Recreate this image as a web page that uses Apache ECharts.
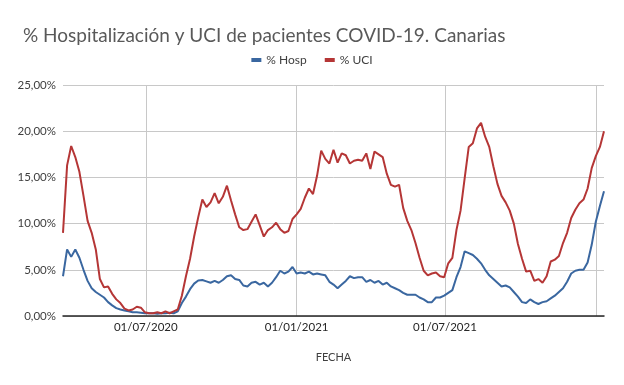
<!DOCTYPE html>
<html>
<head>
<meta charset="utf-8">
<script src="https://cdn.jsdelivr.net/npm/echarts@6/dist/echarts.min.js"></script>
<style>
html,body{margin:0;padding:0;background:#fff;}
#chart{width:624px;height:385px;}
</style>
</head>
<body>
<div id="chart"></div>
<script>
// Daily axis from 22/03/2020 to 11/01/2022; values read every 5 days
const startDate = [2020, 2, 22];
const totalDays = 660;
const step = 5;
const gridDates = ['01/07/2020', '01/01/2021', '01/07/2021', '01/01/2022'];
const labelDates = ['01/07/2020', '01/01/2021', '01/07/2021'];
const seriesNames = ['% Hosp', '% UCI'];
const yTicks = [0, 5, 10, 15, 20, 25];

const hosp = [4.3,7.2,6.4,7.2,6.3,5.0,3.8,3.0,2.6,2.3,2.0,1.5,1.15,0.85,0.7,0.6,0.5,0.4,0.4,0.35,
  0.3,0.3,0.3,0.25,0.3,0.3,0.35,0.3,0.5,1.4,2.1,2.9,3.5,3.85,3.9,3.75,3.6,3.8,3.6,3.9,
  4.3,4.4,4.0,3.9,3.3,3.2,3.6,3.7,3.4,3.6,3.2,3.6,4.2,4.9,4.6,4.8,5.3,4.6,4.7,4.6,
  4.8,4.5,4.6,4.5,4.4,3.7,3.4,3.0,3.4,3.8,4.3,4.1,4.2,4.2,3.7,3.9,3.6,3.8,3.4,3.6,
  3.2,3.0,2.8,2.5,2.3,2.3,2.3,2.0,1.8,1.5,1.5,2.0,2.0,2.2,2.5,2.8,4.2,5.3,7.0,6.8,
  6.6,6.2,5.7,5.0,4.4,4.0,3.6,3.2,3.3,3.1,2.6,2.1,1.5,1.4,1.8,1.5,1.3,1.5,1.6,1.9,
  2.2,2.6,3.0,3.7,4.6,4.9,5.0,5.0,5.8,7.7,10.2,11.9,13.5];
const uci = [9.0,16.3,18.4,17.2,15.6,13.0,10.3,9.0,7.2,4.0,3.1,3.2,2.4,1.8,1.4,0.8,0.6,0.7,1.0,0.9,
  0.4,0.3,0.3,0.4,0.3,0.5,0.3,0.5,0.7,2.2,4.3,6.2,8.6,10.7,12.6,11.8,12.3,13.3,12.2,12.9,
  14.1,12.5,11.0,9.6,9.3,9.4,10.2,11.0,9.8,8.6,9.3,9.6,10.1,9.4,9.0,9.2,10.5,11.0,11.6,12.8,
  13.8,13.2,15.2,17.9,17.0,16.5,18.0,16.6,17.6,17.4,16.5,16.8,16.9,16.8,17.6,15.9,17.8,17.5,17.2,15.4,
  14.2,14.0,14.2,11.7,10.3,9.3,7.9,6.3,4.9,4.4,4.6,4.7,4.3,4.2,5.7,6.3,9.3,11.4,14.9,18.3,
  18.7,20.3,20.9,19.4,18.3,16.2,14.3,13.0,12.3,11.4,10.0,7.8,6.2,4.8,4.9,3.8,4.0,3.6,4.3,5.9,
  6.1,6.5,7.9,9.0,10.6,11.5,12.2,12.6,13.8,16.0,17.3,18.3,20.0];

const pad = n => (n < 10 ? '0' : '') + n;
const categories = [];
for (let d = 0; d <= totalDays; d++) {
  const dt = new Date(Date.UTC(startDate[0], startDate[1], startDate[2] + d));
  categories.push(pad(dt.getUTCDate()) + '/' + pad(dt.getUTCMonth() + 1) + '/' + dt.getUTCFullYear());
}
const toPoints = arr => arr.map((v, i) => [i * step, v]);

const chart = echarts.init(document.getElementById('chart'), null, {renderer: 'canvas'});
const font = 'Lato, "Open Sans", sans-serif';
chart.setOption({
  animation: false,
  backgroundColor: '#fff',
  title: {
    text: '% Hospitalización y UCI de pacientes COVID-19. Canarias',
    left: 18, top: 21,
    textStyle: {fontFamily: font, fontSize: 19, fontWeight: 'normal', color: '#595959'}
  },
  legend: {
    data: seriesNames,
    top: 49, left: 'center',
    icon: 'rect', itemWidth: 10, itemHeight: 4, itemGap: 18,
    textStyle: {fontFamily: font, fontSize: 12, color: '#404040'}
  },
  grid: {left: 63, right: 20, top: 85, bottom: 69, containLabel: false},
  xAxis: {
    type: 'category',
    data: categories,
    boundaryGap: false,
    name: 'FECHA', nameLocation: 'middle', nameGap: 36,
    nameTextStyle: {fontFamily: font, fontSize: 11, color: '#404040'},
    axisLine: {show: true, lineStyle: {color: '#262626', width: 1.5}},
    axisTick: {show: false},
    axisLabel: {
      interval: (i, v) => labelDates.indexOf(v) >= 0,
      margin: 5, fontFamily: font, fontSize: 11.5, color: '#262626'
    },
    splitLine: {
      show: true,
      interval: (i, v) => gridDates.indexOf(v) >= 0,
      lineStyle: {color: '#c8c8c8', width: 1}
    }
  },
  yAxis: {
    type: 'value', min: yTicks[0], max: yTicks[yTicks.length - 1], interval: 5,
    axisLine: {show: false}, axisTick: {show: false},
    axisLabel: {
      margin: 7, fontFamily: font, fontSize: 11.5, color: '#404040',
      formatter: v => v.toFixed(2).replace('.', ',') + '%'
    },
    splitLine: {lineStyle: {color: '#c8c8c8', width: 1}}
  },
  series: [
    {name: seriesNames[0], type: 'line', data: toPoints(hosp), showSymbol: false,
     lineStyle: {color: '#3a67a0', width: 2}, itemStyle: {color: '#3a67a0'}},
    {name: seriesNames[1], type: 'line', data: toPoints(uci), showSymbol: false,
     lineStyle: {color: '#b53636', width: 2}, itemStyle: {color: '#b53636'}}
  ]
});
</script>
</body>
</html>
